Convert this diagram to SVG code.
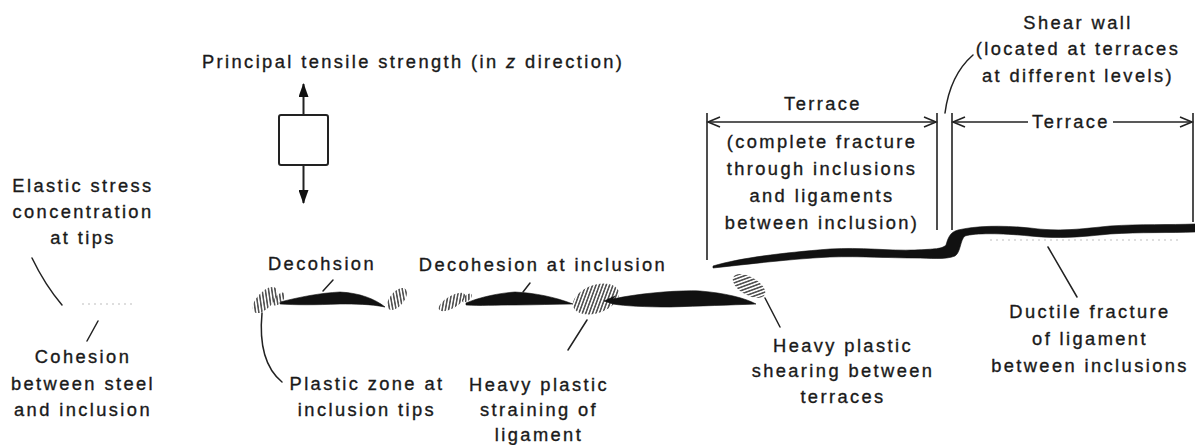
<svg xmlns="http://www.w3.org/2000/svg" width="1195" height="445" viewBox="0 0 1195 445">
  <style>
    .t { font-family: "Liberation Sans", Arial, Helvetica, sans-serif; font-size: 18.3px; letter-spacing: 2.4px; fill: #1a1a1a; stroke: #1a1a1a; stroke-width: 0.35px; }
    .c { text-anchor: middle; }
    .lead { fill: none; stroke: #222; stroke-width: 1.5; stroke-linecap: round; }
    .dim { fill: none; stroke: #222; stroke-width: 1.6; }
    .solid { fill: #111; stroke: #111; stroke-width: 0.6; }
    .hatched { fill: url(#hatch); }
    .faint { fill: none; stroke: #d4d4d4; stroke-width: 1.5; stroke-dasharray: 2 4; }
  </style>
  <defs>
    <pattern id="hatch" patternUnits="userSpaceOnUse" width="3.2" height="10" patternTransform="rotate(40)">
      <line x1="0.8" y1="0" x2="0.8" y2="10" stroke="#3a3a3a" stroke-width="1.4"/>
    </pattern>
    <marker id="tri" viewBox="0 0 14 10" refX="13" refY="5" markerWidth="14" markerHeight="10" markerUnits="userSpaceOnUse" orient="auto">
      <path d="M0,0 L14,5 L0,10 Z" fill="#111"/>
    </marker>
  </defs>

  <rect width="1195" height="445" fill="#ffffff"/>

  <!-- stress element with tensile arrows -->
  <g id="stress-element">
    <rect x="279" y="115" width="49" height="50" rx="2" fill="#fff" stroke="#222" stroke-width="2"/>
    <line x1="303.5" y1="115" x2="303.5" y2="84" stroke="#222" stroke-width="2" marker-end="url(#tri)"/>
    <line x1="303.5" y1="165" x2="303.5" y2="203" stroke="#222" stroke-width="2" marker-end="url(#tri)"/>
    <text class="t" x="202" y="68">Principal tensile strength (in <tspan font-style="italic">z</tspan> direction)</text>
  </g>

  <!-- intact inclusion (cohesion) -->
  <g id="intact-inclusion">
    <line class="faint" x1="82" y1="304" x2="134" y2="304"/>
  </g>

  <!-- first decohered inclusion with tip plastic zones -->
  <g id="inclusion-1">
    <path class="solid" d="M280,302 C300,297 320,293 340,292 C360,293 375,299 385,307 C370,304 355,304 340,304 C315,305 295,305 280,304 Z"/>
    <ellipse class="hatched" cx="265" cy="300" rx="16" ry="8" transform="rotate(-48 265 300)"/>
    <ellipse class="hatched" cx="279" cy="299" rx="8" ry="4" transform="rotate(-48 279 299)"/>
    <ellipse class="hatched" cx="397" cy="299" rx="13" ry="7" transform="rotate(-50 397 299)"/>
  </g>

  <!-- second inclusion and heavily strained ligament -->
  <g id="inclusion-2">
    <ellipse class="hatched" cx="452" cy="302" rx="15" ry="6" transform="rotate(-30 452 302)"/>
    <ellipse class="hatched" cx="467" cy="298" rx="6" ry="3" transform="rotate(-40 467 298)"/>
    <path class="solid" d="M466,303 C480,297 500,293 515,292 C535,293 555,297 573,304 C555,304 535,305 515,305 C495,305 480,306 466,305 Z"/>
    <ellipse class="hatched" cx="596" cy="299" rx="24" ry="14" transform="rotate(-20 596 299)"/>
    <path class="solid" d="M604,301 L615,296 L613,299 C640,293 680,290 700,291 C725,293 745,298 756,304 C730,305 700,306 670,307 C645,307 625,306 613,304 Z"/>
  </g>

  <!-- stepped fracture surface (terraces and shear wall) -->
  <g id="fracture-surface">
    <ellipse class="hatched" cx="749" cy="286" rx="18" ry="9" transform="rotate(30 749 286)"/>
    <path class="solid" d="M713,266 C740,258 780,253 830,249 C860,247 890,251 915,250 C935,249 942,249 946,245 C948,238 950,232 958,230 C975,226 1000,225 1030,228 C1060,232 1080,229 1110,226 C1140,224 1170,225 1195,224 L1195,232 C1170,233 1140,232 1110,234 C1080,237 1060,239 1030,236 C1000,233 975,233 965,236 C960,240 961,252 955,256 C945,260 930,258 915,258 C890,258 860,256 830,257 C790,259 750,264 713,268 Z"/>
    <line class="faint" x1="990" y1="240" x2="1180" y2="240"/>
  </g>

  <!-- terrace dimension lines -->
  <g id="terrace-1">
    <line class="dim" x1="707" y1="113" x2="707" y2="260"/>
    <line class="dim" x1="937" y1="113" x2="937" y2="230"/>
    <line class="dim" x1="708" y1="122" x2="936" y2="122"/>
    <path class="dim" d="M720,117 L708,122 L720,127"/>
    <path class="dim" d="M924,117 L936,122 L924,127"/>
    <text class="t c" x="823" y="110">Terrace</text>
    <text class="t c" x="822" y="148">(complete fracture</text>
    <text class="t c" x="822" y="175">through inclusions</text>
    <text class="t c" x="822" y="202">and ligaments</text>
    <text class="t c" x="822" y="229">between inclusion)</text>
  </g>

  <g id="terrace-2">
    <line class="dim" x1="952" y1="113" x2="952" y2="230"/>
    <line class="dim" x1="1193" y1="113" x2="1193" y2="222"/>
    <line class="dim" x1="953" y1="122" x2="1028" y2="122"/>
    <line class="dim" x1="1113" y1="122" x2="1192" y2="122"/>
    <path class="dim" d="M965,117 L953,122 L965,127"/>
    <path class="dim" d="M1180,117 L1192,122 L1180,127"/>
    <text class="t c" x="1071" y="128">Terrace</text>
  </g>

  <!-- labels -->
  <g id="label-elastic">
    <text class="t c" x="83" y="192">Elastic stress</text>
    <text class="t c" x="83" y="218">concentration</text>
    <text class="t c" x="83" y="244">at tips</text>
  </g>
  <g id="label-cohesion">
    <text class="t c" x="83" y="363">Cohesion</text>
    <text class="t c" x="83" y="390">between steel</text>
    <text class="t c" x="83" y="416">and inclusion</text>
  </g>
  <g id="label-decohsion">
    <text class="t c" x="322" y="270">Decohsion</text>
  </g>
  <g id="label-decohesion">
    <text class="t c" x="543" y="271">Decohesion at inclusion</text>
  </g>
  <g id="label-plastic-zone">
    <text class="t c" x="367" y="390">Plastic zone at</text>
    <text class="t c" x="367" y="416">inclusion tips</text>
  </g>
  <g id="label-straining">
    <text class="t c" x="539" y="391">Heavy plastic</text>
    <text class="t c" x="539" y="416">straining of</text>
    <text class="t c" x="539" y="441">ligament</text>
  </g>
  <g id="label-shearing">
    <text class="t c" x="843" y="352">Heavy plastic</text>
    <text class="t c" x="843" y="377">shearing between</text>
    <text class="t c" x="843" y="403">terraces</text>
  </g>
  <g id="label-shear-wall">
    <text class="t c" x="1078" y="29">Shear wall</text>
    <text class="t c" x="1078" y="55">(located at terraces</text>
    <text class="t c" x="1078" y="82">at different levels)</text>
  </g>
  <g id="label-ductile">
    <text class="t c" x="1090" y="318">Ductile fracture</text>
    <text class="t c" x="1090" y="345">of ligament</text>
    <text class="t c" x="1090" y="372">between inclusions</text>
  </g>

  <!-- leader lines -->
  <g id="connectors">
    <path class="lead" d="M32,258 Q45,285 62,305"/>
    <path class="lead" d="M98,321 L87,341"/>
    <path class="lead" d="M333,280 L323,291"/>
    <path class="lead" d="M262,313 C259,345 265,368 282,382"/>
    <path class="lead" d="M530,283 L523,292"/>
    <path class="lead" d="M587,320 L568,350"/>
    <path class="lead" d="M765,298 L780,327"/>
    <path class="lead" d="M945,113 Q950,75 973,55"/>
    <path class="lead" d="M1048,247 L1077,297"/>
  </g>
</svg>
